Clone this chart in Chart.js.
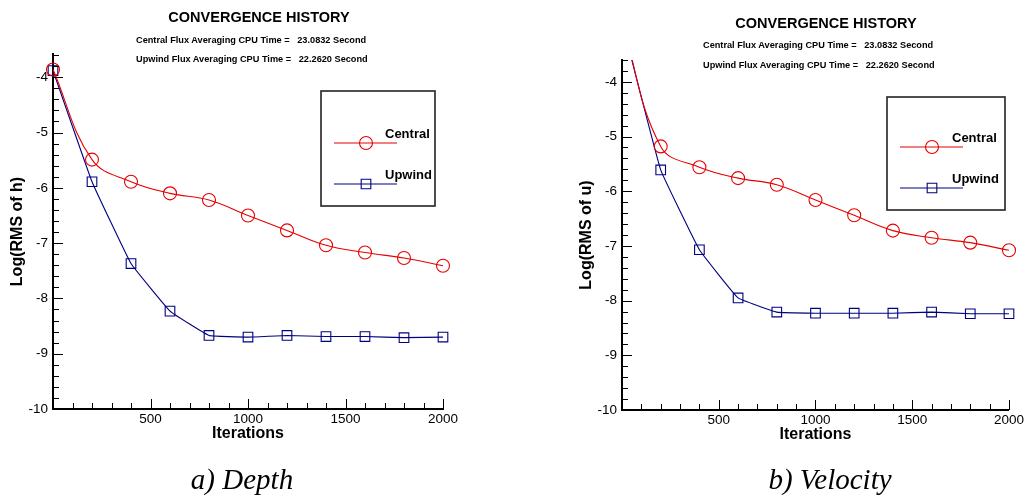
<!DOCTYPE html>
<html>
<head>
<meta charset="utf-8">
<title>Convergence history</title>
<script src="https://cdn.jsdelivr.net/npm/chart.js@4.4.1/dist/chart.umd.min.js"></script>
<style>
  html, body { margin: 0; padding: 0; background: #fff; }
  #page { position: relative; width: 1026px; height: 495px; overflow: hidden; font-family: "Liberation Sans", Arial, sans-serif; color: #000; }
  canvas { position: absolute; top: 0; }
  #depthChart { left: 0; }
  #velocityChart { left: 513px; }
  .title { position: absolute; font-weight: bold; font-size: 14.5px; line-height: 1; transform: translate(-50%, -50%); white-space: nowrap; }
  .note { position: absolute; font-weight: bold; font-size: 9.2px; line-height: 1; white-space: pre; transform: translateY(-50%); }
  .caption { position: absolute; font-family: "Liberation Serif", "Times New Roman", serif; font-style: italic; font-size: 29px; line-height: 1; transform: translate(-50%, -50%); white-space: nowrap; }
</style>
</head>
<body>
<div id="page">
  <canvas id="depthChart" width="513" height="495"></canvas>
  <canvas id="velocityChart" width="513" height="495"></canvas>

  <div class="title" style="left:259px; top:17px;">CONVERGENCE HISTORY</div>
  <div class="note" style="left:136px; top:41px;">Central Flux Averaging CPU Time =   23.0832 Second</div>
  <div class="note" style="left:136px; top:60px;">Upwind Flux Averaging CPU Time =   22.2620 Second</div>

  <div class="title" style="left:826px; top:23px;">CONVERGENCE HISTORY</div>
  <div class="note" style="left:703px; top:46px;">Central Flux Averaging CPU Time =   23.0832 Second</div>
  <div class="note" style="left:703px; top:66px;">Upwind Flux Averaging CPU Time =   22.2620 Second</div>

  <div class="caption" style="left:242px; top:479px;">a) Depth</div>
  <div class="caption" style="left:830px; top:479px;">b) Velocity</div>
</div>

<script>
// iteration count at each sample
const iterations = [0, 200, 400, 600, 800, 1000, 1200, 1400, 1600, 1800, 2000];

// log10 of RMS residual, depth h
const depthCentral = [-3.86, -5.49, -5.89, -6.10, -6.22, -6.50, -6.77, -7.04, -7.17, -7.27, -7.41];
const depthUpwind = [-3.88, -5.89, -7.37, -8.23, -8.67, -8.70, -8.67, -8.69, -8.69, -8.71, -8.70];

// log10 of RMS residual, velocity u
const velocityCentral = [-2.90, -5.18, -5.56, -5.76, -5.88, -6.16, -6.44, -6.72, -6.85, -6.94, -7.08];
const velocityUpwind = [-2.90, -5.61, -7.07, -7.95, -8.21, -8.23, -8.23, -8.23, -8.21, -8.24, -8.24];

const seriesNames = ['Central', 'Upwind'];
const xTickValues = [500, 1000, 1500, 2000];
const yTickValues = [-10, -9, -8, -7, -6, -5, -4];

Chart.defaults.font.family = '"Liberation Sans", Arial, sans-serif';
Chart.defaults.color = '#000';

// tick marks drawn inward from both axes, minor and major
const innerTicks = {
  id: 'innerTicks',
  afterDraw(chart, args, opts) {
    const {ctx, chartArea, scales: {x, y}} = chart;
    ctx.save();
    ctx.strokeStyle = '#000';
    ctx.lineWidth = 1;
    ctx.beginPath();
    for (let k = 1; x.min + k * opts.xMinor <= x.max + 1e-9; k++) {
      const v = x.min + k * opts.xMinor;
      const px = Math.round(x.getPixelForValue(v)) + 0.5;
      const len = (v % opts.xMajor === 0) ? opts.major : opts.minor;
      ctx.moveTo(px, chartArea.bottom);
      ctx.lineTo(px, chartArea.bottom - len);
    }
    for (let k = 1; y.min + k * opts.yMinor <= y.max + 1e-9; k++) {
      const v = y.min + k * opts.yMinor;
      const py = Math.round(y.getPixelForValue(v)) + 0.5;
      const major = Math.abs(v - Math.round(v)) < 1e-6;
      ctx.moveTo(chartArea.left, py);
      ctx.lineTo(chartArea.left + (major ? opts.major : opts.minor), py);
    }
    ctx.stroke();
    ctx.restore();
  }
};

// framed legend sitting inside the plot
const boxLegend = {
  id: 'boxLegend',
  afterDraw(chart, args, opts) {
    const {ctx, chartArea} = chart;
    const bx = chartArea.left + opts.left;
    const by = chartArea.top + opts.top;
    ctx.save();
    ctx.strokeStyle = '#222';
    ctx.lineWidth = 1.6;
    ctx.strokeRect(bx, by, opts.width, opts.height);
    chart.data.datasets.forEach((ds, i) => {
      const ly = by + opts.rows[i];
      ctx.strokeStyle = ds.borderColor;
      ctx.lineWidth = ds.borderWidth;
      ctx.beginPath();
      ctx.moveTo(bx + opts.lineStart, ly);
      ctx.lineTo(bx + opts.lineEnd, ly);
      ctx.stroke();
      const mx = bx + opts.markerX;
      const r = ds.pointRadius;
      ctx.beginPath();
      if (ds.pointStyle === 'circle') {
        ctx.arc(mx, ly, r, 0, Math.PI * 2);
      } else {
        const s = r * Math.SQRT1_2;
        ctx.rect(mx - s, ly - s, 2 * s, 2 * s);
      }
      ctx.lineWidth = ds.pointBorderWidth;
      ctx.stroke();
      ctx.fillStyle = '#000';
      ctx.font = 'bold 13px "Liberation Sans", Arial, sans-serif';
      ctx.textBaseline = 'middle';
      ctx.textAlign = 'left';
      ctx.fillText(ds.label, bx + opts.textX, ly - opts.textRise);
    });
    ctx.restore();
  }
};

function makeSeries(label, values, color, style, tension) {
  return {
    label: label,
    data: values,
    borderColor: color,
    borderWidth: 1.1,
    tension: tension,
    pointStyle: style,
    pointRadius: style === 'circle' ? 6.5 : 6.8,
    pointBorderWidth: 1.1,
    pointBorderColor: color,
    pointBackgroundColor: 'rgba(0,0,0,0)',
    clip: {left: 10, right: 10, top: 0, bottom: 10}
  };
}

function makeChart(canvasId, central, upwind, yTitle, yMax, padding, legendPos) {
  const ctx = document.getElementById(canvasId).getContext('2d');
  return new Chart(ctx, {
    type: 'line',
    data: {
      labels: iterations,
      datasets: [
        makeSeries(seriesNames[0], central, '#e60000', 'circle', 0.4),
        makeSeries(seriesNames[1], upwind, '#000080', 'rect', 0.08)
      ]
    },
    options: {
      responsive: false,
      animation: false,
      layout: { padding: padding },
      plugins: {
        legend: { display: false },
        tooltip: { enabled: false },
        innerTicks: { xMinor: 100, xMajor: 500, yMinor: 0.2, minor: 6, major: 10 },
        boxLegend: legendPos
      },
      scales: {
        x: {
          type: 'linear',
          min: 0,
          max: 2000,
          grid: { display: false, drawTicks: false },
          border: { display: true, color: '#000', width: 2 },
          afterBuildTicks: scale => { scale.ticks = xTickValues.map(v => ({ value: v })); },
          afterFit: scale => { scale.height = 40; },
          ticks: { padding: 2, font: { size: 13.5 }, callback: v => String(v) },
          title: { display: true, text: 'Iterations', font: { size: 16, weight: 'bold' }, padding: { top: 0, bottom: 6 } }
        },
        y: {
          min: -10,
          max: yMax,
          grid: { display: false, drawTicks: false },
          border: { display: true, color: '#000', width: 2 },
          afterBuildTicks: scale => { scale.ticks = yTickValues.map(v => ({ value: v })); },
          afterFit: scale => { scale.width = 53; },
          ticks: { padding: 5, font: { size: 13.5 }, callback: v => String(v) },
          title: { display: true, text: yTitle, font: { size: 16, weight: 'bold' }, padding: { top: 8, bottom: 0 } }
        }
      }
    },
    plugins: [innerTicks, boxLegend]
  });
}

makeChart('depthChart', depthCentral, depthUpwind, 'Log(RMS of h)', -3.58,
  { left: 0, top: 54, right: 70, bottom: 46 },
  { left: 268, top: 37, width: 114, height: 115, rows: [52, 93], lineStart: 13, lineEnd: 76, markerX: 45, textX: 64, textRise: 9 });

makeChart('velocityChart', velocityCentral, velocityUpwind, 'Log(RMS of u)', -3.6,
  { left: 56, top: 60, right: 17, bottom: 45 },
  { left: 265, top: 37, width: 118, height: 113, rows: [50, 91], lineStart: 13, lineEnd: 76, markerX: 45, textX: 65, textRise: 9 });
</script>
</body>
</html>
